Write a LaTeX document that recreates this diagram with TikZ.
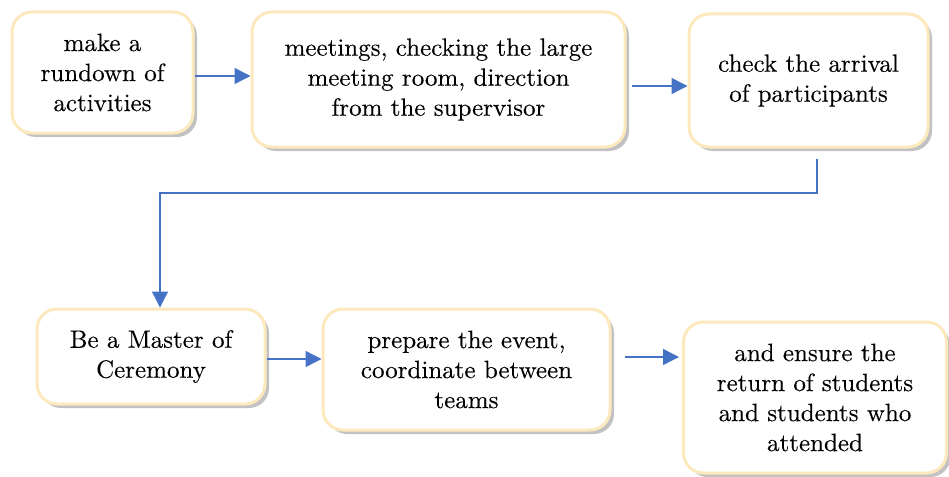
\documentclass[tikz,border=0pt]{standalone}
\usepackage{fontspec}
\newfontfamily\boxfont{lmroman10-regular.otf}[FakeBold=0.2]
\usetikzlibrary{arrows.meta,shadows}
\definecolor{boxborder}{HTML}{FCE9BD}
\definecolor{arrowblue}{HTML}{4472C4}
\tikzset{
  stepbox/.style={rectangle, rounded corners=20pt, draw=boxborder, line width=3pt, fill=white,
    align=center, font=\boxfont\fontsize{25}{30}\selectfont, inner sep=0pt,
    drop shadow={shadow xshift=4pt, shadow yshift=-4pt, opacity=0.4, fill=black!60}},
  arr/.style={draw=arrowblue, line width=1.4pt, -{Triangle[length=16pt,width=16pt]}}
}
\begin{document}
\begin{tikzpicture}[x=1pt,y=-1pt]
\useasboundingbox (0,0) rectangle (949,476);
\node[stepbox, minimum width=181pt, minimum height=121pt] (b1) at (102.5,72.5) {make a\\rundown of\\activities};
\node[stepbox, minimum width=373pt, minimum height=135pt] (b2) at (438.5,79.5) {meetings, checking the large\\meeting room, direction\\from the supervisor};
\node[stepbox, minimum width=239pt, minimum height=133pt] (b3) at (808.5,80.5) {check the arrival\\of participants};
\node[stepbox, minimum width=228pt, minimum height=95pt] (b4) at (151,356.5) {Be a Master of\\Ceremony};
\node[stepbox, minimum width=287pt, minimum height=121pt] (b5) at (466.5,369.5) {prepare the event,\\coordinate between\\teams};
\node[stepbox, minimum width=263pt, minimum height=151pt] (b6) at (815,397.5) {and ensure the\\return of students\\and students who\\attended};
\coordinate (m1) at (160,193);
\draw[arr] ([yshift=-3.5pt]b1.east) -- ([yshift=-3.5pt]b1.east -| b2.west);
\draw[arr, shorten <=5pt] ([yshift=-6.5pt]b2.east) -- ([yshift=-6.5pt]b2.east -| b3.west);
\draw[arr] ([xshift=8.5pt,yshift=-10pt]b3.south) |- (m1) -- ([xshift=9pt]b4.north);
\draw[arr] ([yshift=-2.5pt]b4.east) -- ([yshift=-2.5pt]b4.east -| b5.west);
\draw[arr, shorten <=13pt, shorten >=3pt] ([yshift=12.5pt]b5.east) -- ([yshift=12.5pt]b5.east -| b6.west);
\end{tikzpicture}
\end{document}
